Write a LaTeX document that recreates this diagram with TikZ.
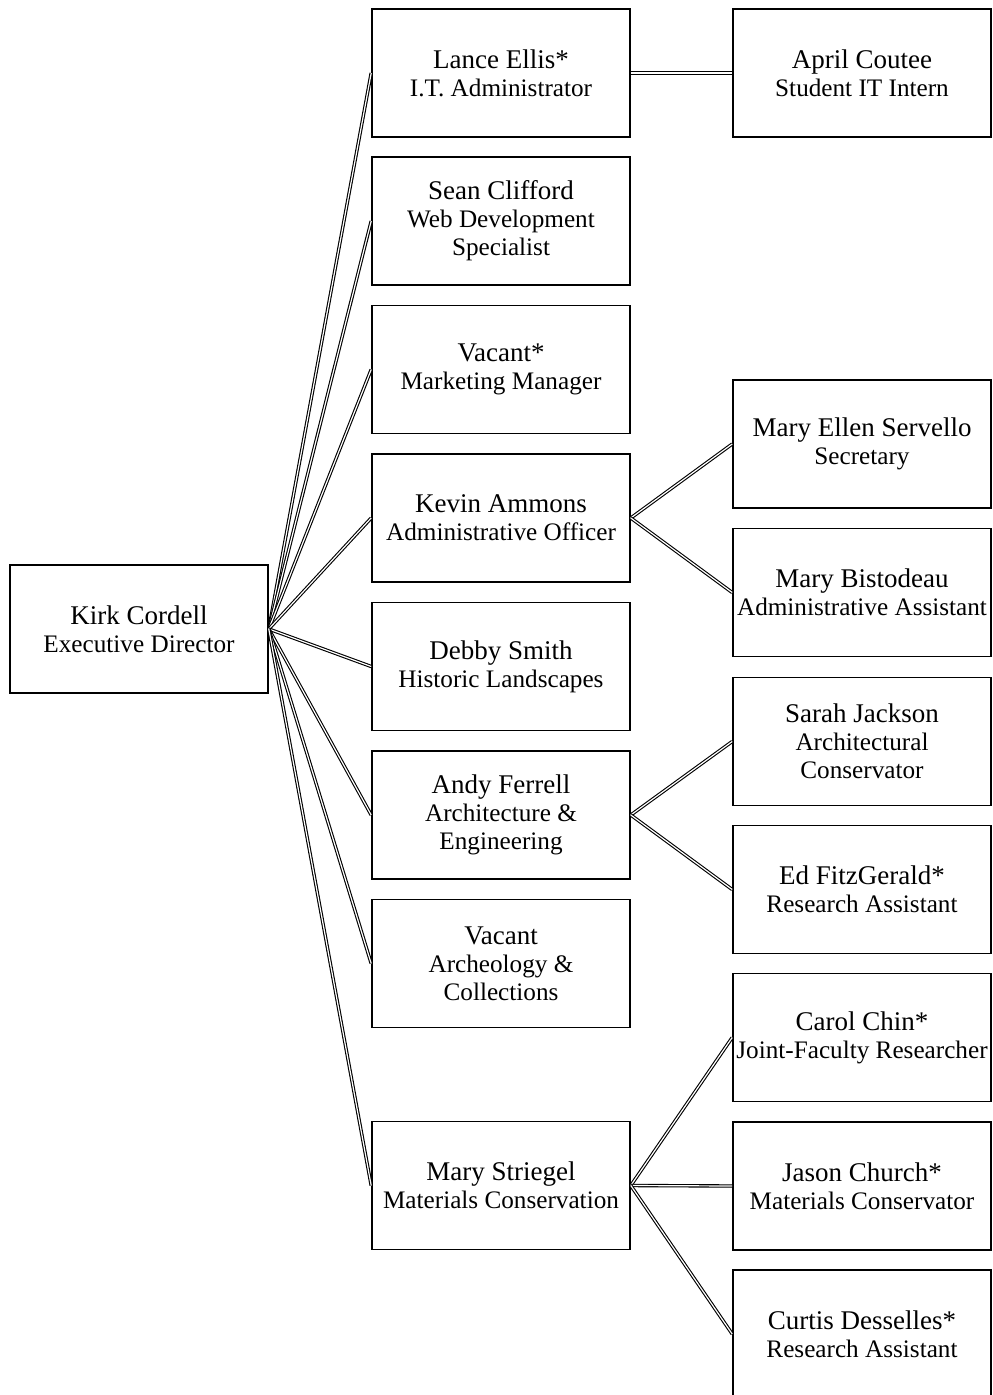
\documentclass[tikz,border=0pt]{standalone}
\usepackage{fontspec}
\setmainfont{Liberation Serif}
\newcommand{\namefont}{\fontsize{13.5}{14.5}\selectfont}
\newcommand{\rolefont}{\fontsize{12.6}{14}\selectfont}
\begin{document}
\begin{tikzpicture}[x=0.5pt,y=-0.5pt,
  emp/.style={draw,line width=0.8pt,minimum width=129pt,minimum height=64pt,
    align=center,inner sep=1pt,font=\rolefont},
  link/.style={double,double distance=0.6pt,line width=0.55pt}]

\useasboundingbox (0,0) rectangle (992,1395);

\node[emp] (kirk) at (139,629) {\namefont Kirk Cordell\\Executive Director};

\node[emp] (lance) at (501,73) {\namefont Lance Ellis*\\I.T. Administrator};
\node[emp] (sean) at (501,221) {\namefont Sean Clifford\\Web Development\\Specialist};
\node[emp] (vacmkt) at (501,369.5) {\namefont Vacant*\\Marketing Manager};
\node[emp] (kevin) at (501,518) {\namefont Kevin Ammons\\Administrative Officer};
\node[emp] (debby) at (501,666.5) {\namefont Debby Smith\\Historic Landscapes};
\node[emp] (andy) at (501,815) {\namefont Andy Ferrell\\Architecture \&\\Engineering};
\node[emp] (vacarch) at (501,963.5) {\namefont Vacant\\Archeology \&\\Collections};
\node[emp] (marys) at (501,1185.5) {\namefont Mary Striegel\\Materials Conservation};

\node[emp] (april) at (862,73) {\namefont April Coutee\\Student IT Intern};
\node[emp] (marye) at (862,444) {\namefont Mary Ellen Servello\\Secretary};
\node[emp] (maryb) at (862,592.5) {\namefont Mary Bistodeau\\Administrative Assistant};
\node[emp] (sarah) at (862,741.5) {\namefont Sarah Jackson\\Architectural\\Conservator};
\node[emp] (ed) at (862,889.5) {\namefont Ed FitzGerald*\\Research Assistant};
\node[emp] (carol) at (862,1037.5) {\namefont Carol Chin*\\Joint-Faculty Researcher};
\node[emp] (jason) at (862,1186) {\namefont Jason Church*\\Materials Conservator};
\node[emp] (curtis) at (862,1334) {\namefont Curtis Desselles*\\Research Assistant};

% director to unit heads
\foreach \m in {lance,sean,vacmkt,kevin,debby,andy,vacarch,marys}
  \draw[link] (kirk.east) -- (\m.west);

% unit heads to staff
\draw[link] (lance.east) -- (april.west);
\draw[link] (kevin.east) -- (marye.west);
\draw[link] (kevin.east) -- (maryb.west);
\draw[link] (andy.east) -- (sarah.west);
\draw[link] (andy.east) -- (ed.west);
\draw[link] (marys.east) -- (carol.west);
\draw[link] (marys.east) -- (jason.west);
\draw[link] (marys.east) -- (curtis.west);

\end{tikzpicture}
\end{document}
